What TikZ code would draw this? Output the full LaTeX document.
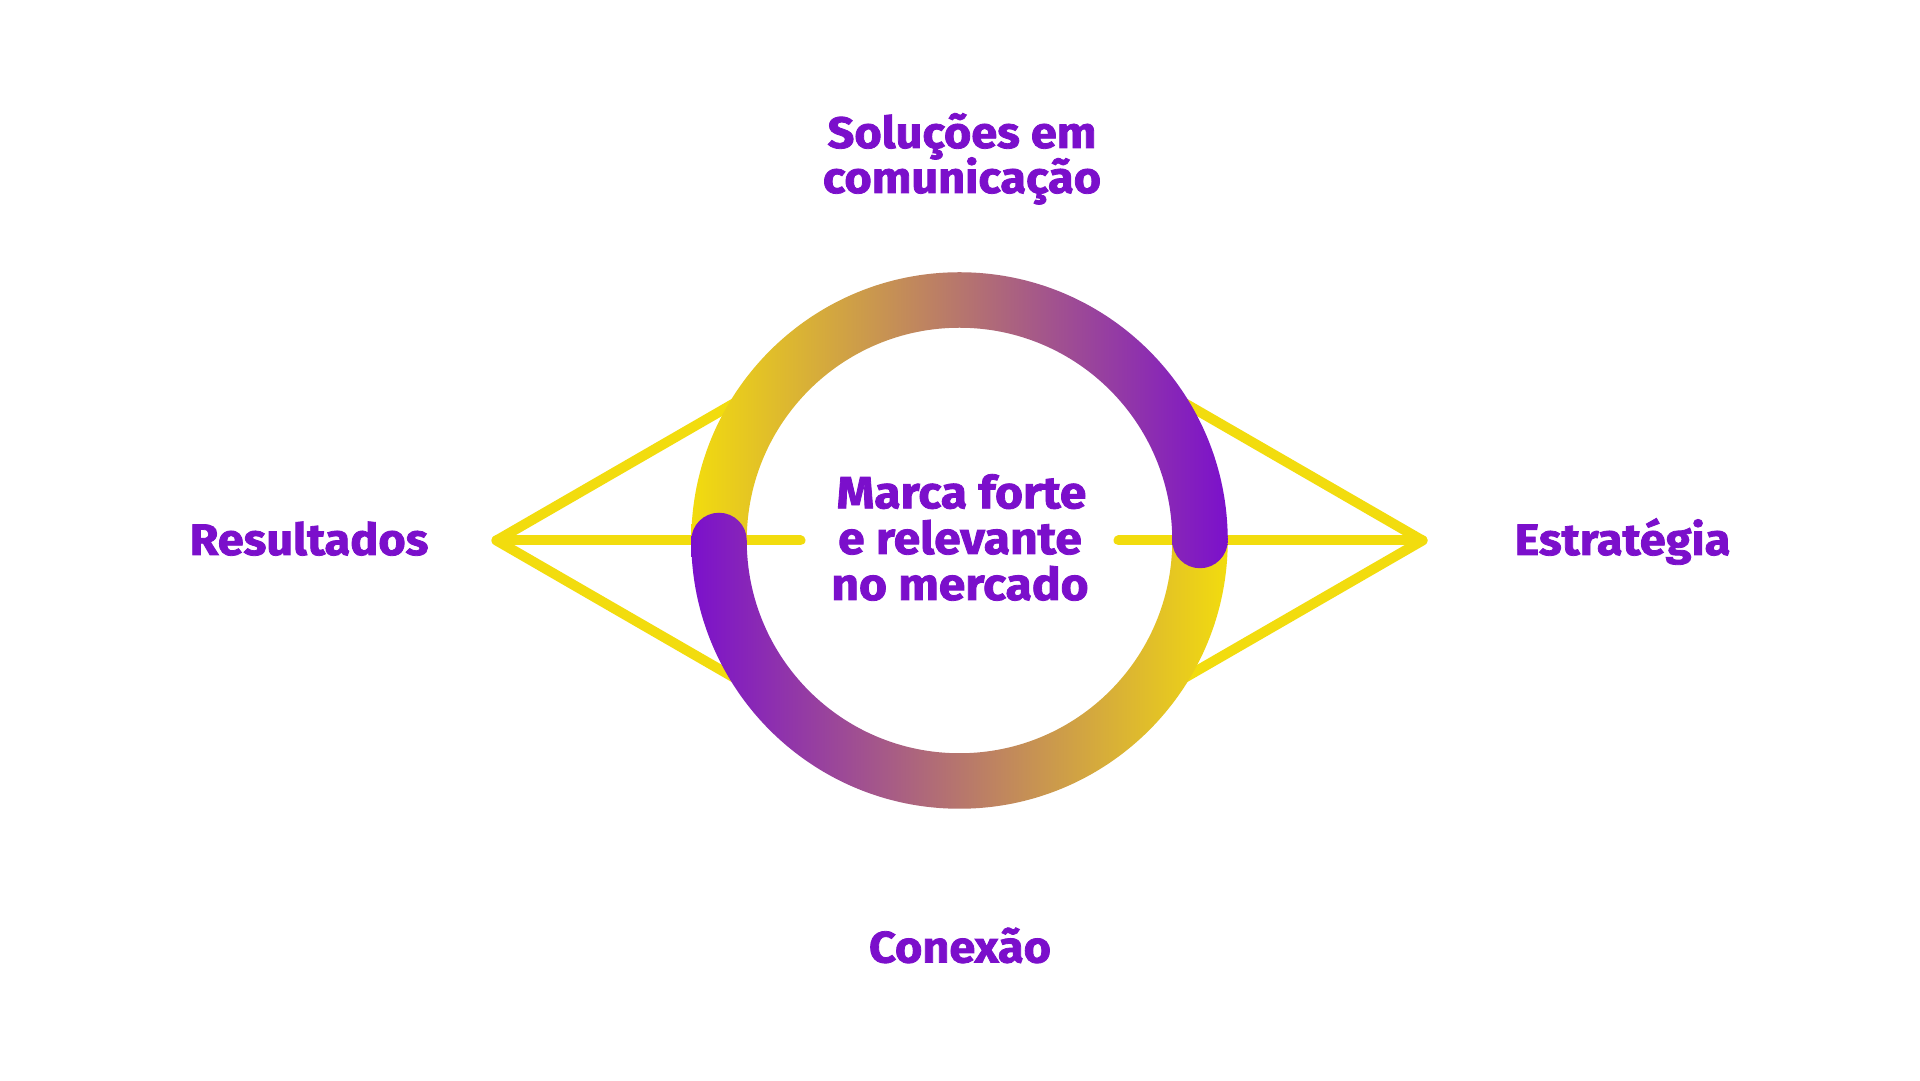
\documentclass[tikz,border=0pt]{standalone}
\usepackage{fontspec}
\setmainfont{Fira Sans}
\newfontfamily\heavyfont{Fira Sans}[BoldFeatures={FakeBold=1.8,FakeStretch=1.065}]
\usetikzlibrary{calc}
\definecolor{ringY}{HTML}{F2DC0E}
\definecolor{ringP}{HTML}{7B10CC}
\definecolor{txtP}{HTML}{7B0FCB}
\begin{document}
\begin{tikzpicture}[x=1pt,y=1pt,
  lbl/.style={text=txtP, font={\heavyfont\fontsize{44}{44}\selectfont\bfseries}, inner sep=0pt, anchor=base},
  ctr/.style={lbl, font={\heavyfont\fontsize{45}{45}\selectfont\bfseries}},
  yline/.style={draw=ringY, line width=10pt, line cap=round, line join=round}]
\useasboundingbox (0,0) rectangle (1920,1081);
\fill[white] (0,0) rectangle (1920,1081);
\def\cx{959.5}\def\cy{540.5}\def\Ro{268.25}\def\Ri{212.75}\def\Rm{240.5}\def\Rc{27.75}
\coordinate (C) at (\cx,\cy);
\coordinate (tipL) at (\cx-463,\cy);
\coordinate (tipR) at (\cx+463,\cy);
\coordinate (hL) at (\cx-159,\cy);
\coordinate (hR) at (\cx+159,\cy);
\coordinate (uL) at ($(tipL)+(30:401)$);
\coordinate (dL) at ($(tipL)+(-30:401)$);
\coordinate (uR) at ($(tipR)+(150:401)$);
\coordinate (dR) at ($(tipR)+(210:401)$);
% yellow connectors
\draw[yline] (uL) -- (tipL) -- (dL);
\draw[yline] (tipL) -- (hL);
\draw[yline] (uR) -- (tipR) -- (dR);
\draw[yline] (tipR) -- (hR);
% ring: upper half
\shade[left color=ringY, right color=ringP]
  ($(C)+(\Ro,0)$) arc[start angle=0, end angle=180, radius=\Ro]
  -- ($(C)+(-\Ri,0)$) arc[start angle=180, end angle=0, radius=\Ri] -- cycle;
% ring: lower half
\shade[left color=ringP, right color=ringY]
  ($(C)+(-\Ro,0)$) arc[start angle=180, end angle=360, radius=\Ro]
  -- ($(C)+(\Ri,0)$) arc[start angle=360, end angle=180, radius=\Ri] -- cycle;
% round caps
\begin{scope}
  \clip ($(C)+(-\Rm,0)$) circle[radius=\Rc];
  \shade[left color=ringP, right color=ringY] ($(C)+(-\Ro,-\Ro)$) rectangle ($(C)+(\Ro,\Ro)$);
\end{scope}
\begin{scope}
  \clip ($(C)+(\Rm,0)$) circle[radius=\Rc];
  \shade[left color=ringY, right color=ringP] ($(C)+(-\Ro,-\Ro)$) rectangle ($(C)+(\Ro,\Ro)$);
\end{scope}
% labels
\node[lbl] (sol1) at (962,933) {Soluções em};
\node[lbl] (sol2) at (962,888) {comunicação};
\node[lbl] (est) at (1622.5,526) {Estratégia};
\node[lbl] (res) at (309,526) {Resultados};
\node[lbl] (con) at (960,118.5) {Conexão};
\node[ctr] (m1) at (961.5,572.7) {Marca forte};
\node[ctr] (m2) at (960,527) {e relevante};
\node[ctr] (m3) at (960,481) {no mercado};
\end{tikzpicture}
\end{document}
